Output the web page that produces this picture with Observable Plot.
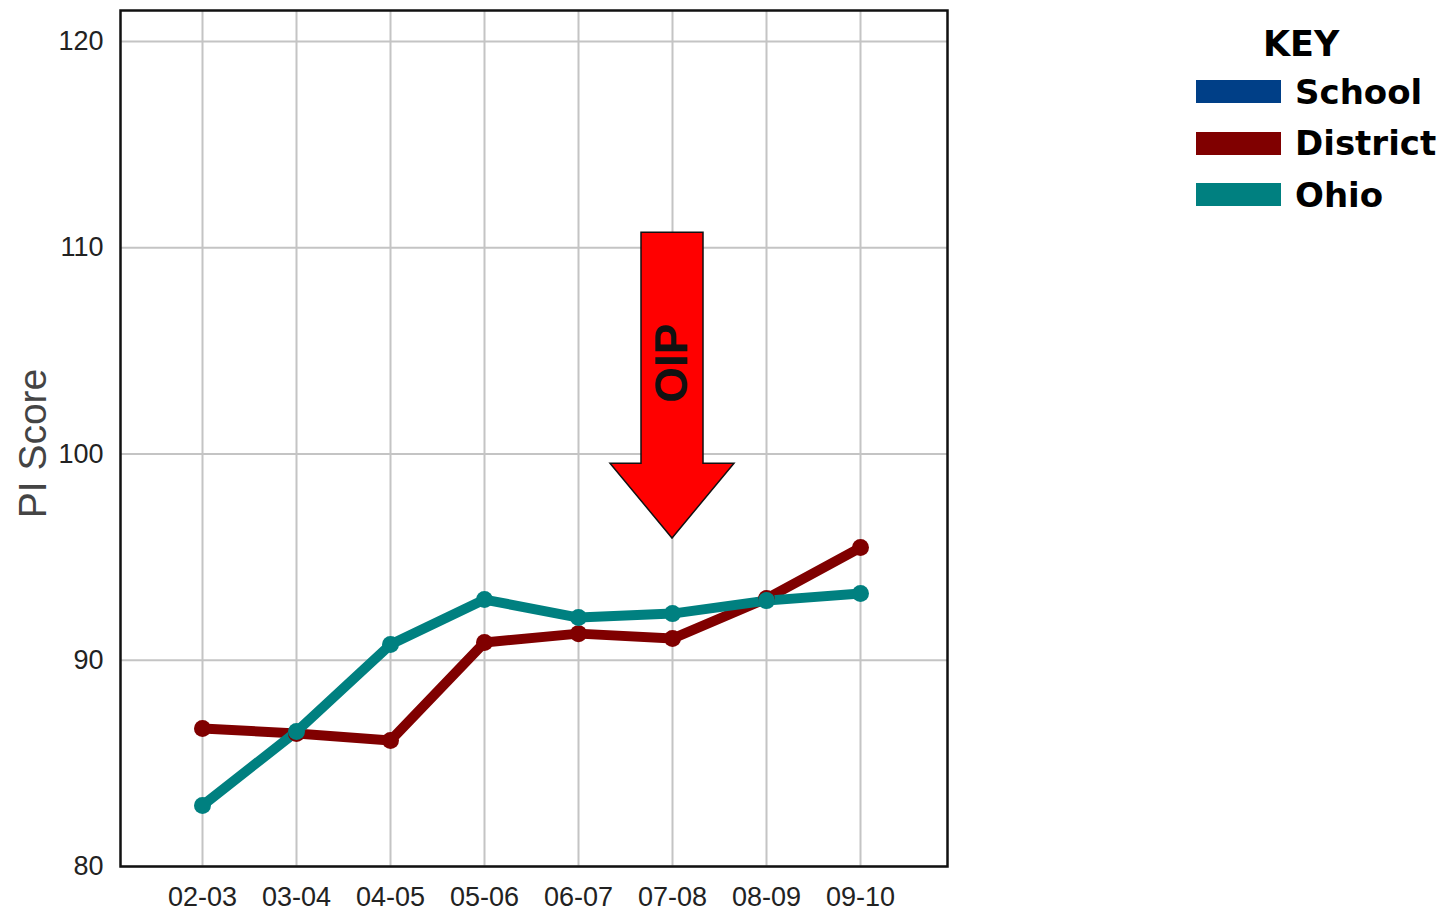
<!DOCTYPE html>
<html>
<head>
<meta charset="utf-8">
<script src="https://cdn.jsdelivr.net/npm/d3@7"></script>
<script src="https://cdn.jsdelivr.net/npm/@observablehq/plot@0.6"></script>
<style>
  html, body { margin: 0; padding: 0; background: #fff; }
  #wrap { position: relative; width: 1456px; height: 913px; }
  #legend { position: absolute; left: 1196px; top: 22px; font-family: "DejaVu Sans", Verdana, sans-serif; font-weight: bold; color: #000; }
  #legend .title { font-size: 35px; margin-left: 67px; line-height: 44px; }
  #legend .row { display: flex; align-items: center; height: 51.5px; }
  #legend .sw { width: 85px; height: 23px; margin-right: 14px; }
  #legend .lab { font-size: 34px; }
</style>
</head>
<body>
<div id="wrap">
  <div id="chart"></div>
  <div id="legend"></div>
</div>
<script>
const years = ["02-03", "03-04", "04-05", "05-06", "06-07", "07-08", "08-09", "09-10"];
const districtValues = [86.69, 86.45, 86.11, 90.86, 91.29, 91.05, 92.99, 95.46];
const ohioValues = [82.96, 86.54, 90.76, 92.94, 92.07, 92.26, 92.89, 93.23];
const yTicks = [80, 90, 100, 110, 120];
const seriesNames = ["School", "District", "Ohio"];
const seriesColors = ["#003f87", "#800000", "#008080"];
const arrowYear = "07-08";
const arrowTop = 110.73, arrowHeadBase = 99.53, arrowTip = 95.9;
const arrowLabel = "OIP";
const arrowLabelY = 104.4;

const rows = [];
years.forEach((y, i) => {
  rows.push({year: y, value: districtValues[i], series: "District"});
});
years.forEach((y, i) => {
  rows.push({year: y, value: ohioValues[i], series: "Ohio"});
});
const colorOf = s => seriesColors[seriesNames.indexOf(s)];

const arrowMark = (index, scales) => {
  const cx = scales.x(arrowYear);
  const yt = scales.y(arrowTop), yb = scales.y(arrowHeadBase), yp = scales.y(arrowTip);
  const sw = 31, hw = 62;
  const d = `M${cx - sw},${yt}L${cx + sw},${yt}L${cx + sw},${yb}L${cx + hw},${yb}L${cx},${yp}L${cx - hw},${yb}L${cx - sw},${yb}Z`;
  const g = d3.create("svg:path")
    .attr("d", d)
    .attr("fill", "#ff0000")
    .attr("stroke", "#111")
    .attr("stroke-width", 1.5)
    .attr("stroke-linejoin", "miter");
  return g.node();
};

const chart = Plot.plot({
  width: 1456,
  height: 913,
  marginLeft: 120,
  marginRight: 509,
  marginTop: 10,
  marginBottom: 47,
  style: {fontFamily: "'Liberation Sans', Arial, sans-serif", background: "transparent"},
  x: {type: "point", domain: years, padding: 0.886, align: 0.485},
  y: {domain: [80, 121.5]},
  marks: [
    Plot.gridX(years, {stroke: "#c4c4c4", strokeOpacity: 1, strokeWidth: 2}),
    Plot.gridY(yTicks, {stroke: "#c4c4c4", strokeOpacity: 1, strokeWidth: 2}),
    Plot.axisX({tickSize: 0, tickPadding: 20, fontSize: 27, label: null, color: "#222"}),
    Plot.axisY(yTicks, {tickSize: 0, tickPadding: 17, fontSize: 27, label: null, color: "#222"}),
    Plot.text(["PI Score"], {frameAnchor: "left", dx: -87, dy: 5, rotate: -90, textAnchor: "middle", fontSize: 39, fill: "#444"}),
    Plot.line(rows, {x: "year", y: "value", z: "series", stroke: d => colorOf(d.series), strokeWidth: 10, strokeLinejoin: "round"}),
    Plot.dot(rows, {x: "year", y: "value", fill: d => colorOf(d.series), r: 8.5}),
    arrowMark,
    Plot.text([arrowLabel], {x: () => arrowYear, y: () => arrowLabelY, rotate: -90, fontSize: 46, fontWeight: "bold", fill: "#111", fontFamily: "'Liberation Sans', Arial, sans-serif"}),
    Plot.frame({stroke: "#111", strokeWidth: 2.5})
  ]
});
document.getElementById("chart").appendChild(chart);

const legend = document.getElementById("legend");
const t = document.createElement("div");
t.className = "title";
t.textContent = "KEY";
legend.appendChild(t);
seriesNames.forEach((s, i) => {
  const r = document.createElement("div");
  r.className = "row";
  const sw = document.createElement("div");
  sw.className = "sw";
  sw.style.background = seriesColors[i];
  const l = document.createElement("div");
  l.className = "lab";
  l.textContent = s;
  r.appendChild(sw);
  r.appendChild(l);
  legend.appendChild(r);
});
</script>
</body>
</html>
